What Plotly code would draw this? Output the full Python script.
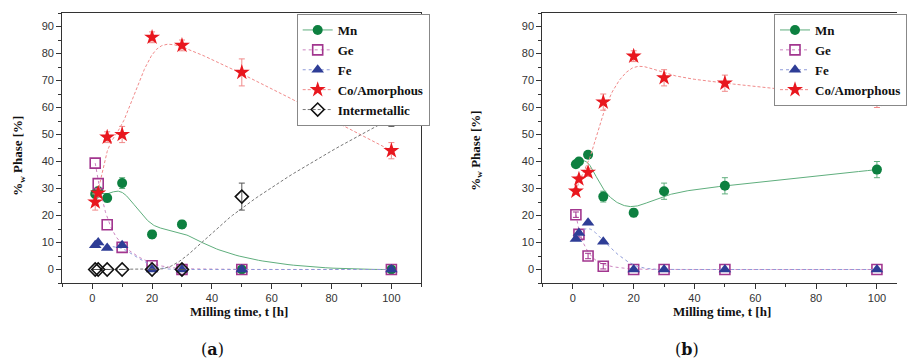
import numpy as np
import plotly.graph_objects as go

# ---------------- data ----------------
time_h = [1, 2, 5, 10, 20, 30, 50, 100]

a_mn = [28, 29, 26.5, 32, 13, 16.7, 0, 0]
a_mn_err = [1.5, 1.5, 1.5, 2, 1.5, 1.5, 0, 0]
a_ge = [39.4, 31.8, 16.6, 8.2, 1.4, 0, 0, 0]
a_fe = [9, 10, 8, 9, 0, 0, 0, 0]
a_co = [25, 28.3, 49, 50, 86, 83, 73, 44]
a_co_err = [3, 1.5, 2, 3, 2, 2, 5, 3]
a_int = [0, 0, 0, 0, 0, 0, 27, 56]
a_int_err = [0, 0, 0, 0, 0, 0, 5, 3]

b_mn = [39, 40, 42.5, 27, 21, 29, 31, 37]
b_mn_err = [1, 1, 1, 2, 1.5, 3, 3, 3]
b_ge = [20.3, 13, 5, 1.2, 0, 0, 0, 0]
b_ge_err = [1, 1, 1, 1, 0, 0, 0, 0]
b_fe = [11.3, 13.5, 17.3, 10.3, 0, 0, 0, 0]
b_co = [29, 33.5, 36, 62, 79, 71, 69, 63]
b_co_err = [1, 1, 1.5, 3, 2, 3, 3, 3]

x_ticks = [0, 20, 40, 60, 80, 100]
y_ticks = [0, 10, 20, 30, 40, 50, 60, 70, 80, 90]

# ---------------- styles ----------------
S = {
    "Mn": dict(symbol="circle", size=10, color="#0d8040", fill="#0d8040",
               line=dict(color="#5fae7d", width=1, dash="solid"), err="#5fae7d"),
    "Ge": dict(symbol="square-open", size=10, color="#a2368f", fill=None,
               line=dict(color="#cc86c0", width=1, dash="dot"), err="#a2368f"),
    "Fe": dict(symbol="triangle-up", size=11, color="#2e3d96", fill="#2e3d96",
               line=dict(color="#8e9ad8", width=1, dash="dot"), err="#2e3d96"),
    "Co/Amorphous": dict(symbol="star", size=12, color="#e8171e", fill="#e8171e",
                         line=dict(color="#f08a8a", width=1, dash="3px,2px"), err="#f08a8a"),
    "Intermetallic": dict(symbol="diamond-open", size=10, color="#111111", fill=None,
                          line=dict(color="#777777", width=1, dash="3px,2px"), err="#555555"),
}


def bspline(xs, ys, p=3, n=240):
    P = np.column_stack([np.asarray(xs, float), np.asarray(ys, float)])
    m = len(P)
    p = min(p, m - 1)
    knots = np.concatenate([np.zeros(p), np.linspace(0, 1, m - p + 1), np.ones(p)])
    out = []
    for t in np.linspace(0, 1, n):
        k = np.searchsorted(knots, t, side="right") - 1
        k = min(k, m - 1)
        d = [P[j + k - p].copy() for j in range(p + 1)]
        for r in range(1, p + 1):
            for j in range(p, r - 1, -1):
                den = knots[j + 1 + k - r] - knots[j + k - p]
                a = 0 if den == 0 else (t - knots[j + k - p]) / den
                d[j] = (1 - a) * d[j - 1] + a * d[j]
        out.append(d[p])
    out = np.array(out)
    return out[:, 0], out[:, 1]


fig = go.Figure()


def add_series(name, ys, err, xa, ya, legend):
    st = S[name]
    cx, cy = bspline(time_h, ys)
    mk = dict(symbol=st["symbol"], size=st["size"], color=st["fill"] or st["color"],
              line=dict(color=st["color"], width=1.6 if st["fill"] is None else 0))
    fig.add_trace(go.Scatter(x=cx, y=cy, mode="lines", line=st["line"],
                             xaxis=xa, yaxis=ya, showlegend=False, hoverinfo="skip"))
    fig.add_trace(go.Scatter(
        x=time_h, y=ys, mode="markers", xaxis=xa, yaxis=ya, showlegend=False, marker=mk,
        error_y=dict(type="data", array=err, color=st["err"], thickness=1, width=3,
                     visible=err is not None),
    ))
    fig.add_trace(go.Scatter(
        x=[None], y=[None], mode="lines+markers", name=name, legend=legend,
        xaxis=xa, yaxis=ya, line=st["line"], marker=mk,
    ))


add_series("Mn", a_mn, a_mn_err, "x", "y", "legend")
add_series("Ge", a_ge, None, "x", "y", "legend")
add_series("Fe", a_fe, None, "x", "y", "legend")
add_series("Co/Amorphous", a_co, a_co_err, "x", "y", "legend")
add_series("Intermetallic", a_int, a_int_err, "x", "y", "legend")

add_series("Mn", b_mn, b_mn_err, "x2", "y2", "legend2")
add_series("Ge", b_ge, b_ge_err, "x2", "y2", "legend2")
add_series("Fe", b_fe, None, "x2", "y2", "legend2")
add_series("Co/Amorphous", b_co, b_co_err, "x2", "y2", "legend2")

W, H = 907, 360
tickfont = dict(family="Liberation Sans, Arial", size=11, color="#333333")
axcol = "#333333"


def xaxis(dom, rng, anchor):
    return dict(domain=dom, range=rng, anchor=anchor, showline=True, linecolor=axcol,
                linewidth=1.3, mirror=True, ticks="outside", ticklen=5, tickwidth=1.3,
                tickcolor=axcol, tickvals=x_ticks, tickfont=tickfont, showgrid=False,
                zeroline=False,
                minor=dict(ticks="outside", ticklen=3, tickwidth=1.1, tickcolor=axcol,
                           dtick=10, tick0=0, showgrid=False))


def yaxis(anchor, mirror):
    return dict(domain=[(H - 283) / H, (H - 13) / H], range=[-5, 95], anchor=anchor,
                showline=True, linecolor=axcol, linewidth=1.3, mirror=mirror,
                ticks="outside", ticklen=5, tickwidth=1.3, tickcolor=axcol,
                tickvals=y_ticks, tickfont=tickfont, showgrid=False, zeroline=False,
                minor=dict(ticks="outside", ticklen=3, tickwidth=1.1, tickcolor=axcol,
                           dtick=5, tick0=0, showgrid=False))


legfont = dict(family="Liberation Serif, Times New Roman", size=13, color="#111111",
               weight="bold")
titlefont = dict(family="Liberation Serif, Times New Roman", size=13, color="#111111")

fig.update_layout(
    width=W, height=H, margin=dict(l=0, r=0, t=0, b=0),
    paper_bgcolor="white", plot_bgcolor="white",
    xaxis=xaxis([63 / W, 426 / W], [-10, 110], "y"),
    yaxis=yaxis("x", True),
    xaxis2=xaxis([548.5 / W, 1.0], [-10, 106.6], "y2"),
    yaxis2=yaxis("x2", False),
    legend=dict(x=300 / W, y=(H - 14) / H, xanchor="left", yanchor="top",
                bgcolor="white", bordercolor="#888888", borderwidth=1,
                font=legfont, itemwidth=30, tracegroupgap=0),
    legend2=dict(x=783 / W, y=(H - 14) / H, xanchor="left", yanchor="top",
                 bgcolor="white", bordercolor="#888888", borderwidth=1,
                 font=legfont, itemwidth=30, tracegroupgap=0),
    showlegend=True,
)

ann = []
for cx in (242, 730):
    ann.append(dict(text="<b>Milling time, t [h]</b>", x=cx / W, y=(H - 311) / H,
                    xref="paper", yref="paper", showarrow=False, font=titlefont,
                    xanchor="center", yanchor="middle"))
for cx, cy in ((18, 156), (482, 151)):
    ann.append(dict(text="<b>%<sub>w</sub> Phase [%]</b>", x=cx / W, y=(H - cy) / H,
                    xref="paper", yref="paper", showarrow=False, font=titlefont,
                    textangle=-90, xanchor="center", yanchor="middle"))
for cx, lab in ((215, "a"), (695, "b")):
    ann.append(dict(text="(<b>" + lab + "</b>)", x=cx / W, y=(H - 349) / H,
                    xref="paper", yref="paper", showarrow=False,
                    font=dict(family="DejaVu Serif", size=16, color="#111111"),
                    xanchor="center", yanchor="middle"))
fig.update_layout(annotations=ann)

fig.write_html("out.html",
               config={"displayModeBar": False},
               post_script="document.body.style.margin='0';"
                           "document.body.style.overflow='hidden';")
